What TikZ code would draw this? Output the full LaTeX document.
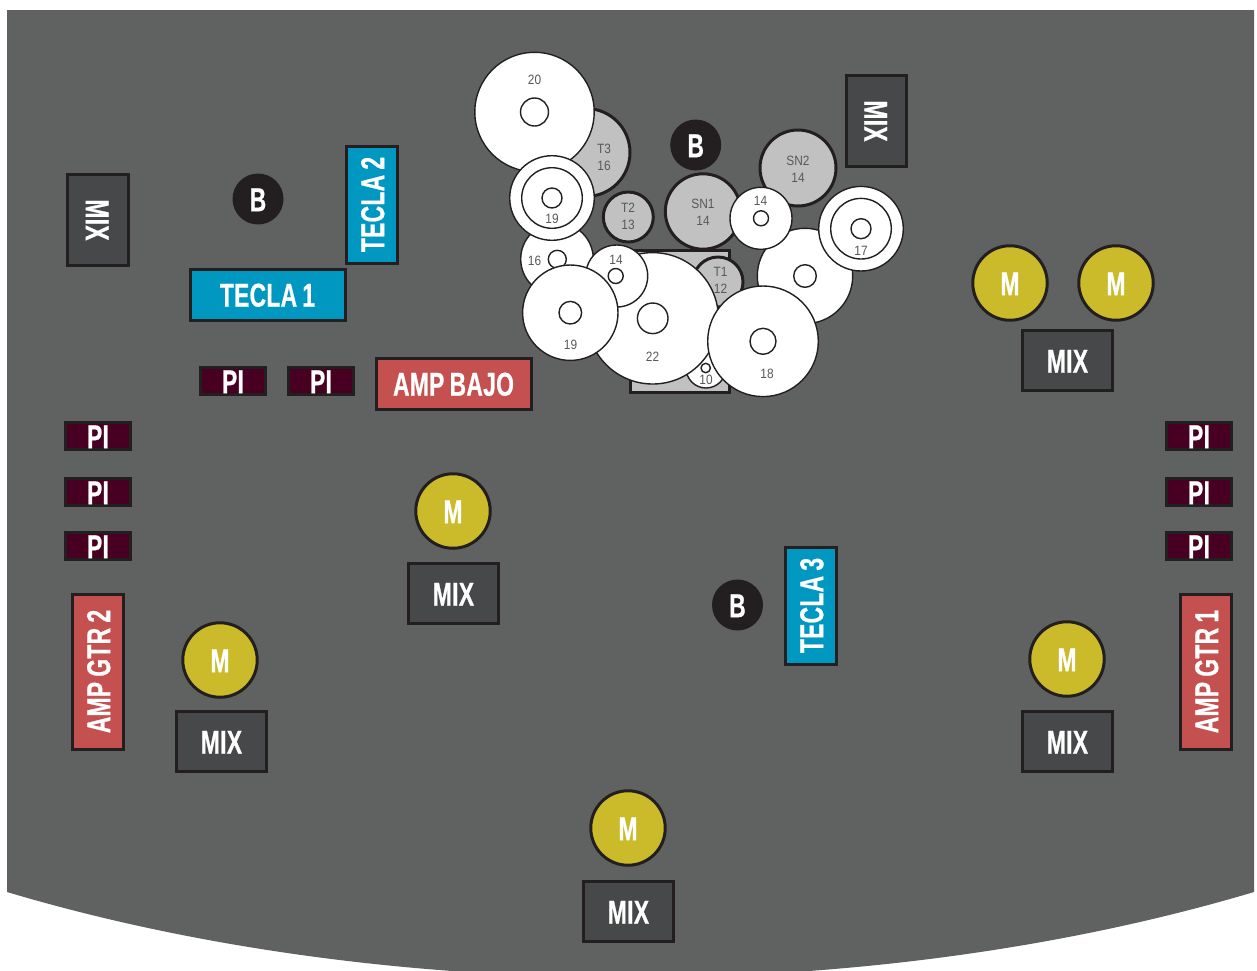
\documentclass[tikz,border=0pt]{standalone}
\usepackage{fontspec}
\setmainfont{Liberation Sans}
\newfontfamily\bigfont[FakeStretch=0.69,WordSpace=0.8,FakeBold=0.7,LetterSpace=1]{Liberation Sans}
\newfontfamily\numfont[FakeStretch=0.88]{Liberation Sans}
\definecolor{stagebg}{HTML}{606261}
\definecolor{edgec}{HTML}{231F20}
\definecolor{mixc}{HTML}{47484A}
\definecolor{tealc}{HTML}{0098C1}
\definecolor{redc}{HTML}{C45150}
\definecolor{pic}{HTML}{470021}
\definecolor{yelc}{HTML}{CBBB2A}
\definecolor{lightc}{HTML}{C1C1C1}
\definecolor{numc}{HTML}{58595B}
\tikzset{
  bigtext/.style={text=white,text height=24.3pt,text depth=0pt,font=\bigfont\bfseries\fontsize{33}{33}\selectfont},
  boxbase/.style={draw=edgec,line width=3pt,inner sep=0pt,outer sep=0pt,bigtext},
  mixbox/.style={boxbase,fill=mixc,minimum width=90.5pt,minimum height=60.5pt},
  teclabox/.style={boxbase,fill=tealc,minimum width=155pt,minimum height=51pt},
  teclashort/.style={boxbase,fill=tealc,minimum width=117pt,minimum height=51pt},
  ampbox/.style={boxbase,fill=redc,minimum width=155pt,minimum height=51pt},
  pibox/.style={boxbase,fill=pic,minimum width=65pt,minimum height=27.5pt},
  ballB/.style={circle,fill=edgec,draw=none,minimum size=51pt,inner sep=0pt,bigtext},
  ballM/.style={circle,fill=yelc,draw=edgec,line width=3pt,minimum size=74.5pt,inner sep=0pt,bigtext},
  wdisc/.style={circle,fill=white,draw=edgec,line width=1.4pt,inner sep=0pt,outer sep=0pt,minimum size=#1*2pt},
  gdisc/.style={circle,fill=lightc,draw=edgec,line width=3pt,inner sep=0pt,outer sep=0pt,minimum size=#1*2pt},
  num/.style={text=numc,font=\numfont\fontsize{13.5}{17}\selectfont,align=center,inner sep=0pt},
}
\begin{document}
\begin{tikzpicture}[x=1pt,y=-1pt]
\clip (0,0) rectangle (1257,970);
\fill[white] (0,0) rectangle (1257,970);
\fill[stagebg] (7,10) -- (1254,10) -- (1254,892) .. controls (871,1006) and (390,1006) .. (7,892) -- cycle;
% drum riser
\node[draw=edgec,fill=lightc,line width=3pt,minimum width=99pt,minimum height=142pt,inner sep=0pt] (riser) at (679.5,321.5) {};
% discs
\node[gdisc=25] (t1) at (718,282) {};
\node[wdisc=20] (d10) at (706,368) {};
\node[wdisc=4.7] (d10i) at (705.7,368) {};
\node[gdisc=44] (t3) at (586,152.5) {};
\node[wdisc=59.7] (d20) at (534.5,112) {};
\node[wdisc=14] (d20i) at (534.5,112) {};
\node[gdisc=37.7] (sn1) at (703,211.5) {};
\node[gdisc=38] (sn2) at (798,168) {};
\node[gdisc=25] (t2) at (628.3,217) {};
\node[wdisc=36.3] (d16) at (557,259) {};
\node[wdisc=9] (d16i) at (557.3,259.3) {};
\node[wdisc=65.7] (d22) at (652.7,318.3) {};
\node[wdisc=15.3] (d22i) at (652.7,318.3) {};
\node[wdisc=31] (d14a) at (616.7,276) {};
\node[wdisc=7.5] (d14ai) at (615.7,276) {};
\node[wdisc=47.7] (d19a) at (570.3,312.7) {};
\node[wdisc=11.3] (d19ai) at (570.3,312.7) {};
\node[wdisc=42.3] (d19b) at (552,198) {};
\node[wdisc=30.3] (d19bm) at (552,198) {};
\node[wdisc=10] (d19bi) at (552,198) {};
\node[wdisc=47.7] (dbig) at (805,276) {};
\node[wdisc=11.3] (dbigi) at (805,276) {};
\node[wdisc=55.3] (d18) at (763,341.3) {};
\node[wdisc=13] (d18i) at (763,341.3) {};
\node[wdisc=31] (d14b) at (761,218.3) {};
\node[wdisc=7.5] (d14bi) at (761,218.3) {};
\node[wdisc=42.3] (d17) at (861,228.7) {};
\node[wdisc=30.3] (d17m) at (861,228.7) {};
\node[wdisc=10] (d17i) at (861,228.7) {};
% disc labels
\node[num] (l20) at (534.5,79.5) {20};
\node[num] (lt3) at (604,157) {T3\\16};
\node[num] (l19b) at (552,218.5) {19};
\node[num] (lt2) at (628,216) {T2\\13};
\node[num] (lsn1) at (703,212) {SN1\\14};
\node[num] (lsn2) at (798,169) {SN2\\14};
\node[num] (l16) at (534.5,260.5) {16};
\node[num] (l14a) at (616,259.5) {14};
\node[num] (lt1) at (720.5,280) {T1\\12};
\node[num] (l22) at (652.5,356.5) {22};
\node[num] (l19a) at (570.5,344.5) {19};
\node[num] (l10) at (706,379.5) {10};
\node[num] (l18) at (767,373.5) {18};
\node[num] (l14b) at (760.5,200.5) {14};
\node[num] (l17) at (861,250.5) {17};
% mixes
\node[mixbox,rotate=-90] (mixtop) at (876.5,121) {MIX};
\node[mixbox,rotate=-90] (mixleft) at (98,220) {MIX};
\node[mixbox] (mix1) at (1067.5,360.5) {MIX};
\node[mixbox] (mix2) at (453.5,593.5) {MIX};
\node[mixbox] (mix3) at (221.5,741.5) {MIX};
\node[mixbox] (mix4) at (1067.5,741.5) {MIX};
\node[mixbox] (mix5) at (628.5,911.5) {MIX};
% keys and amps
\node[teclabox] (tecla1) at (267.5,294.5) {TECLA 1};
\node[teclashort,rotate=90] (tecla2) at (372,204.5) {TECLA 2};
\node[teclashort,rotate=90] (tecla3) at (811,605.5) {TECLA 3};
\node[ampbox] (bajo) at (453.5,383.5) {AMP BAJO};
\node[ampbox,rotate=90] (gtr2) at (98,671.5) {AMP GTR 2};
\node[ampbox,rotate=90] (gtr1) at (1206,671.5) {AMP GTR 1};
% PI
\node[pibox] (pi1) at (233,381) {PI};
\node[pibox] (pi2) at (321,381) {PI};
\node[pibox] (pi3) at (98,436) {PI};
\node[pibox] (pi4) at (98,492) {PI};
\node[pibox] (pi5) at (98,546) {PI};
\node[pibox] (pi6) at (1199,436) {PI};
\node[pibox] (pi7) at (1199,492) {PI};
\node[pibox] (pi8) at (1199,546) {PI};
% B
\node[ballB] (b1) at (258,199) {B};
\node[ballB] (b2) at (695.7,145) {B};
\node[ballB] (b3) at (737.5,605) {B};
% M
\node[ballM] (m1) at (1010,283) {M};
\node[ballM] (m2) at (1116,283) {M};
\node[ballM] (m3) at (453,511) {M};
\node[ballM] (m4) at (220,660) {M};
\node[ballM] (m5) at (1067,659) {M};
\node[ballM] (m6) at (628,828) {M};
\end{tikzpicture}
\end{document}
